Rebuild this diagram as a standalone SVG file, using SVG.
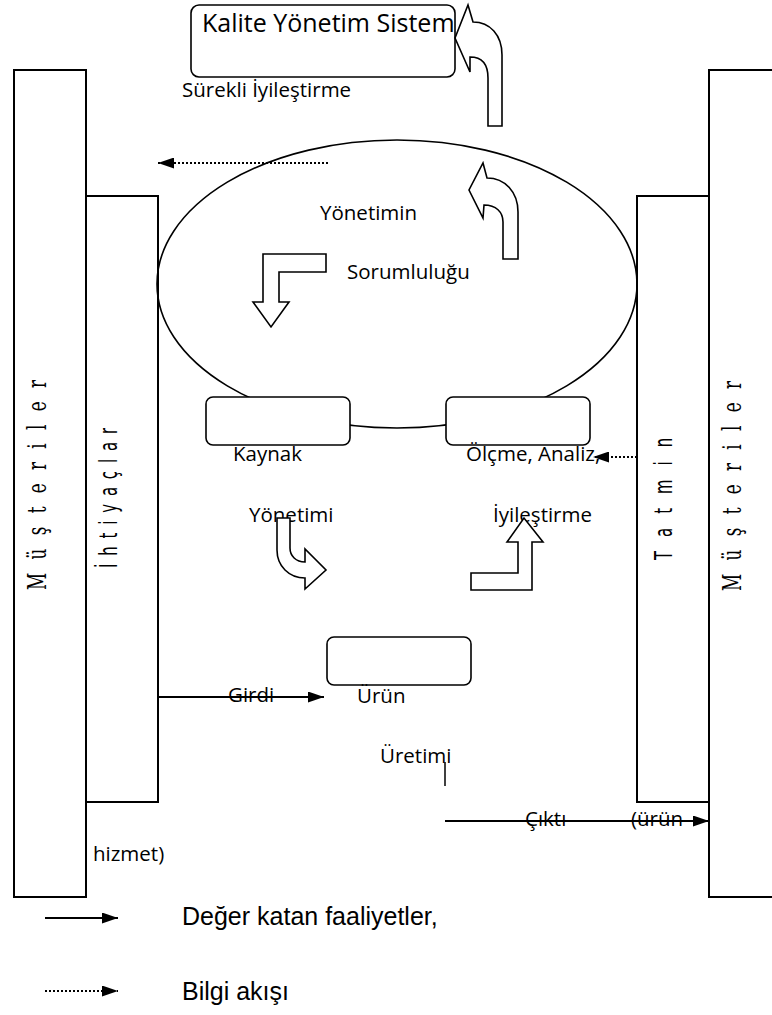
<svg xmlns="http://www.w3.org/2000/svg" width="772" height="1015" viewBox="0 0 772 1015">
<defs>
<marker id="ahl" viewBox="0 0 16 11" refX="16" refY="5.5" markerWidth="16" markerHeight="11" markerUnits="userSpaceOnUse" orient="auto">
<path d="M0,0 L16,5.5 L0,11 Z" fill="#000"/>
</marker>
</defs>
<style>
.box{fill:#fff;stroke:#000;stroke-width:2}
.rbox{fill:#fff;stroke:#000;stroke-width:1.6}
.shape{fill:#fff;stroke:#000;stroke-width:1.6;stroke-linejoin:miter}
.lbl{font-family:"Open Sans","Noto Sans",sans-serif;font-size:20.5px;fill:#000}
.title{font-family:"Open Sans","Noto Sans",sans-serif;font-size:25px;fill:#000}
.vserif{font-family:"DejaVu Serif","Liberation Serif",serif;font-size:26px;fill:#000}
.vsans{font-family:"DejaVu Sans","Liberation Sans",sans-serif;font-size:24px;fill:#000}
.leg{font-family:"Liberation Sans",Arial,sans-serif;font-size:25px;fill:#000}
.solid{stroke:#000;stroke-width:2;fill:none}
.dot{stroke:#000;stroke-width:2;stroke-dasharray:2 2;fill:none}
</style>
<rect width="772" height="1015" fill="#fff"/>

<g id="musteriler-left">
<rect class="box" x="14" y="70" width="72" height="827"/>
<text class="vserif" transform="translate(46,485) rotate(-90) scale(0.65,1)" text-anchor="middle" textLength="323" lengthAdjust="spacing">M ü ş t e r i l e r</text>
</g>
<g id="musteriler-right">
<rect class="box" x="709" y="70" width="80" height="827"/>
<text class="vserif" transform="translate(741,486) rotate(-90) scale(0.65,1)" text-anchor="middle" textLength="323" lengthAdjust="spacing">M ü ş t e r i l e r</text>
</g>
<g id="ihtiyaclar">
<rect class="box" x="86" y="196" width="72" height="606"/>
<text class="vsans" transform="translate(117,498) rotate(-90) scale(0.62,1)" text-anchor="middle" textLength="226" lengthAdjust="spacing">İ h t i y a ç l a r</text>
</g>
<g id="tatmin">
<rect class="box" x="637" y="196" width="72" height="606"/>
<text class="vsans" transform="translate(672,499) rotate(-90) scale(0.62,1)" text-anchor="middle" textLength="197" lengthAdjust="spacing">T a t m i n</text>
</g>

<g id="yonetim-sorumlulugu">
<ellipse cx="397" cy="284" rx="240" ry="144" fill="none" stroke="#000" stroke-width="1.6"/>
<text class="lbl" x="320" y="220">Yönetimin</text>
<text class="lbl" x="347" y="279">Sorumluluğu</text>
</g>

<g id="kalite">
<rect class="rbox" x="191" y="5" width="264" height="72" rx="8"/>
<text class="title" x="202" y="32">Kalite Yönetim Sistem</text>
</g>
<text class="lbl" x="182" y="97">Sürekli İyileştirme</text>

<g id="kaynak">
<rect class="rbox" x="206" y="397" width="144" height="48" rx="7"/>
<text class="lbl" x="233" y="461">Kaynak</text>
<text class="lbl" x="249" y="522">Yönetimi</text>
</g>
<g id="olcme">
<rect class="rbox" x="446" y="397" width="144" height="48" rx="7"/>
<text class="lbl" x="466" y="461">Ölçme, Analiz,</text>
<text class="lbl" x="493" y="522">İyileştirme</text>
</g>
<g id="urun">
<rect class="rbox" x="327" y="637" width="144" height="48" rx="7"/>
<text class="lbl" x="357" y="703">Ürün</text>
<text class="lbl" x="380" y="763">Üretimi</text>
</g>

<g id="connectors">
<path class="shape" d="M502,126 L502,55 C502,35 490,22 473,22 L468,5 L455,38 L470,72 L470,57 C482,57 488,64 488,78 L488,126 Z"/>
<path class="shape" d="M518,259 L518,212 C518,192 505,178 487,178 L483,163 L469,190 L483,218 L484,205 C496,205 503,212 503,222 L503,259 Z"/>
<path class="shape" d="M326,254 L263,254 L263,302 L253,302 L271,327 L289,302 L279,302 L279,272 L326,272 Z"/>
<path class="shape" d="M277,518 L277,550 C277,566 289,578 305,578 L305,589 L326,570 L305,549 L305,562 C296,562 290,556 290,548 L290,518 Z"/>
<path class="shape" d="M471,573 L518,573 L518,542 L507,542 L524,518 L543,542 L532,542 L532,590 L471,590 Z"/>
<line class="dot" x1="328" y1="163" x2="158" y2="163" marker-end="url(#ahl)"/>
<line class="dot" x1="637" y1="457" x2="593" y2="457" marker-end="url(#ahl)"/>
<line class="solid" x1="158" y1="697" x2="324" y2="697" marker-end="url(#ahl)"/>
<line x1="445" y1="762" x2="445" y2="786" stroke="#000" stroke-width="1.5"/>
<line class="solid" x1="445" y1="821" x2="709" y2="821" marker-end="url(#ahl)"/>
</g>

<text class="lbl" x="228" y="702">Girdi</text>
<text class="lbl" x="525" y="826">Çıktı</text>
<text class="lbl" x="631" y="826">(ürün</text>
<text class="lbl" x="93" y="861">hizmet)</text>

<g id="legend">
<line class="solid" x1="45" y1="918" x2="118" y2="918" marker-end="url(#ahl)"/>
<text class="leg" x="182" y="925">Değer katan faaliyetler,</text>
<line class="dot" x1="45" y1="991" x2="118" y2="991" marker-end="url(#ahl)"/>
<text class="leg" x="182" y="1000">Bilgi akışı</text>
</g>
</svg>
